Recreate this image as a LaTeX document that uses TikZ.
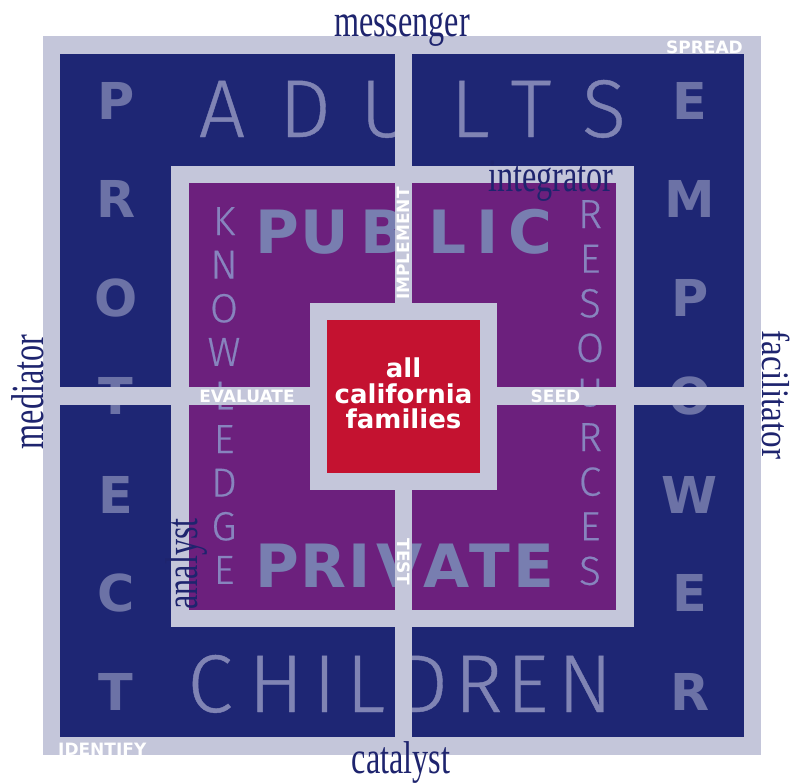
\documentclass[tikz,border=0pt]{standalone}
\usepackage{fontspec}
\newfontfamily\lightsans{Fira Sans Light}[FakeBold=0.5]
\newfontfamily\heavysans{DejaVu Sans Bold}
\newfontfamily\condserif{Liberation Serif}[FakeStretch=0.7]
\newfontfamily\looseserif{Liberation Serif}[FakeStretch=0.85]
\definecolor{lav}{RGB}{196,198,218}
\definecolor{navy}{RGB}{30,38,116}
\definecolor{plum}{RGB}{108,32,125}
\definecolor{crimson}{RGB}{196,18,48}
\definecolor{boldlav}{RGB}{108,114,166}
\definecolor{thinlav}{RGB}{128,132,180}
\definecolor{publav}{RGB}{120,126,176}
\definecolor{knowlav}{RGB}{135,132,190}
\definecolor{inkblue}{RGB}{30,36,110}
\tikzset{
  thinletter/.style={font=\lightsans\fontsize{82}{82}\selectfont, text=thinlav, anchor=base, inner sep=0pt},
  smallthin/.style={font=\lightsans\fontsize{40.6}{40.6}\selectfont, text=knowlav, anchor=base, inner sep=0pt},
  sideletter/.style={font=\heavysans\fontsize{50.8}{50.8}\selectfont, text=boldlav, anchor=base, inner sep=0pt},
  sectorletter/.style={font=\heavysans\fontsize{59.7}{59.7}\selectfont, text=publav, anchor=base, inner sep=0pt},
  barlabel/.style={font=\heavysans\fontsize{17}{17}\selectfont, text=white, inner sep=0pt},
  rolename/.style={font=\condserif\fontsize{46}{46}\selectfont, text=inkblue, anchor=base, inner sep=0pt}
}
\begin{document}
\begin{tikzpicture}[x=1pt,y=-1pt]
  \useasboundingbox (0,0) rectangle (790,782);
  % outer frame with the four blue quadrants
  \fill[lav] (43,36) rectangle (761,755);
  \fill[navy] (60,54) rectangle (395,387);
  \fill[navy] (412,54) rectangle (744,387);
  \fill[navy] (60,405) rectangle (395,737);
  \fill[navy] (412,405) rectangle (744,737);

  % middle square
  \fill[lav] (171,166) rectangle (634,627);
  \fill[plum] (189,183) rectangle (616,610);

  % big words across the top and bottom
  \foreach \ch/\x [count=\i] in {A/222,D/305,U/387,L/470,T/531,S/604}
    \node[thinletter] (adults-\i) at (\x,137) {\ch};
  \foreach \ch/\x [count=\i] in {C/210,H/276,I/324.5,L/365.5,D/422,R/478.5,E/527.5,N/585}
    \node[thinletter] (children-\i) at (\x,712) {\ch};

  % side columns
  \foreach \ch [count=\i from 0] in {P,R,O,T,E,C,T}
    \node[sideletter] (protect-\i) at (116,{119+98.5*\i}) {\ch};
  \foreach \ch [count=\i from 0] in {E,M,P,O,W,E,R}
    \node[sideletter] (empower-\i) at (690,{119+98.5*\i}) {\ch};

  % inner columns
  \foreach \ch [count=\i from 0] in {K,N,O,W,L,E,D,G,E}
    \node[smallthin] (knowledge-\i) at (224,{235+43.6*\i}) {\ch};
  \foreach \ch [count=\i from 0] in {R,E,S,O,U,R,C,E,S}
    \node[smallthin] (resources-\i) at (590,{228+44.6*\i}) {\ch};

  % public / private
  \foreach \ch/\x [count=\i] in {P/277,U/325,B/383,L/448,I/488,C/530}
    \node[sectorletter] (public-\i) at (\x,253) {\ch};
  \foreach \ch/\x [count=\i] in {P/277,R/323,I/360,V/400,A/447,T/490,E/534}
    \node[sectorletter] (private-\i) at (\x,587) {\ch};

  % cross bars
  \fill[lav] (395,36) rectangle (412,755);
  \fill[lav] (43,387) rectangle (761,405);

  % centre
  \fill[lav] (310,303) rectangle (497,490);
  \fill[crimson] (327,320) rectangle (480,473);
  \node[font=\heavysans\fontsize{26}{25.5}\selectfont, text=white, align=center, inner sep=0pt]
    (families) at (403.5,393.5) {all\\california\\families};

  % labels on the bars
  \node[barlabel, anchor=base east] (spread) at (743,53) {SPREAD};
  \node[barlabel, anchor=base west] (identify) at (58,755.5) {IDENTIFY};
  \node[barlabel, anchor=base] (evaluate) at (247,402) {EVALUATE};
  \node[barlabel, anchor=base] (seed) at (555.5,402) {SEED};
  \node[barlabel, rotate=90] (implement) at (403.5,243.5) {IMPLEMENT};
  \node[barlabel, rotate=-90] (test) at (403.5,562) {TEST};

  % roles round the edges
  \node[rolename] (messenger) at (402,36) {messenger};
  \node[rolename] (integrator) at (551,191) {integrator};
  \node[rolename] (catalyst) at (401,773) {catalyst};
  \node[rolename, rotate=90] (mediator) at (43,392) {mediator};
  \node[rolename, font=\looseserif\fontsize{39}{39}\selectfont, rotate=-90] (facilitator) at (762,395) {facilitator};
  \node[rolename, rotate=90] (analyst) at (197,564) {analyst};
\end{tikzpicture}
\end{document}
